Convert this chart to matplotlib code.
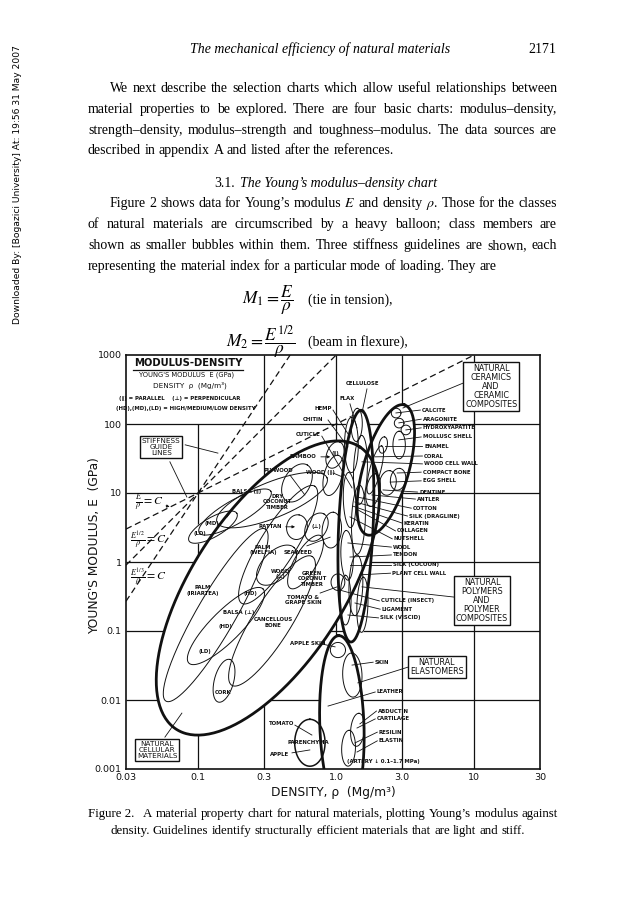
import numpy as np
import matplotlib
matplotlib.use("Agg")
import matplotlib.pyplot as plt

plt.rcParams['mathtext.fontset'] = 'stix'

# ---- chart data --------------------------------------------------------
x_ticks = [0.03, 0.1, 0.3, 1.0, 3.0, 10, 30]
x_tick_labels = ["0.03", "0.1", "0.3", "1.0", "3.0", "10", "30"]
y_ticks = [0.001, 0.01, 0.1, 1, 10, 100, 1000]
y_tick_labels = ["0.001", "0.01", "0.1", "1", "10", "100", "1000"]
grid_rho = [0.1, 0.3, 1.0, 3.0, 10]
grid_E = [0.01, 0.1, 1, 10, 100]

# guide lines E^(1/n)/rho = C, all through one point
guide_n = [1, 2, 3]
guide_rho0, guide_E0 = 0.1, 10.0

# heavy balloons: centre density (Mg/m3), centre modulus (GPa),
# half axes in decades of density, tilt in degrees
class_names = ["cellular", "polymers", "ceramics", "elastomers"]
class_rho = [0.32, 1.39, 2.29, 1.10]
class_E = [0.42, 3.3, 21.6, 0.0043]
class_a = [1.22, 0.84, 0.49, 0.65]
class_b = [0.55, 0.125, 0.165, 0.16]
class_ang = [57, 87.5, 74, 92]

# member bubbles
member_names = [
    "balsa par LD", "balsa par MD", "dry coconut timber", "plywood", "palm welfia",
    "rattan", "wood perp 1", "palm iriartea", "balsa perp", "cork",
    "cancellous bone", "wood perp 2", "green coconut timber", "seaweed",
    "tomato grape skin", "bamboo", "wood par",
    "cellulose", "chitin", "polymer 3", "polymer 4", "polymer 5", "polymer 6",
    "polymer 7", "polymer 8", "polymer 9",
    "calcite", "aragonite", "hydroxyapatite", "mollusc shell", "enamel", "coral",
    "compact bone", "egg shell", "antler",
    "apple skin", "skin", "abductin", "resilin", "parenchyma"]
member_rho = [0.128, 0.185, 0.343, 0.52, 0.38,
              0.52, 0.72, 0.134, 0.159, 0.154,
              0.343, 0.37, 0.60, 0.93,
              1.03, 0.98, 0.95,
              1.41, 1.29, 1.50, 1.25, 1.45, 1.20,
              1.39, 1.17, 1.55,
              2.72, 2.86, 3.2, 2.86, 2.19, 1.92,
              2.81, 2.37, 1.85,
              1.03, 1.31, 1.43, 1.23, 0.645]
member_E = [3.2, 5.3, 7.9, 14, 1.78,
            3.2, 3.2, 0.17, 0.118, 0.019,
            0.14, 0.9, 1.0, 2.9,
            0.51, 35.6, 18,
            97, 49.6, 21.6, 7.9, 4.1, 1.25,
            0.46, 0.28, 0.24,
            144, 103, 82, 49.6, 49.6, 21.6,
            15.8, 14, 11,
            0.053, 0.023, 0.0037, 0.002, 0.0024]
member_a = [0.2, 0.3, 0.43, 0.15, 0.5,
            0.09, 0.11, 0.72, 0.38, 0.16,
            0.55, 0.18, 0.22, 0.13,
            0.06, 0.1, 0.15,
            0.12, 0.2, 0.25, 0.2, 0.25, 0.18,
            0.22, 0.18, 0.2,
            0.035, 0.035, 0.035, 0.1, 0.06, 0.18,
            0.08, 0.09, 0.12,
            0.055, 0.16, 0.12, 0.13, 0.17]
member_b = [0.07, 0.085, 0.13, 0.095, 0.13,
            0.075, 0.075, 0.14, 0.11, 0.07,
            0.14, 0.1, 0.08, 0.07,
            0.05, 0.06, 0.065,
            0.04, 0.05, 0.05, 0.045, 0.05, 0.045,
            0.05, 0.04, 0.04,
            0.035, 0.035, 0.035, 0.045, 0.03, 0.04,
            0.055, 0.06, 0.05,
            0.055, 0.07, 0.05, 0.05, 0.11]
member_ang = [30, 30, 22, 60, 58,
              80, 60, 60, 45, 75,
              58, 45, 60, 85,
              90, 70, 75,
              88, 90, 88, 92, 88, 92,
              88, 90, 88,
              0, 0, 0, 90, 80, 75,
              80, 80, 80,
              0, 92, 85, 88, 90]

# labels with leader lines to the right of the balloons
right_labels = ["CALCITE", "ARAGONITE", "HYDROXYAPATITE", "MOLLUSC SHELL", "ENAMEL",
                "CORAL", "WOOD CELL WALL", "COMPACT BONE", "EGG SHELL", "DENTINE",
                "ANTLER", "COTTON", "SILK (DRAGLINE)", "KERATIN", "COLLAGEN",
                "NUTSHELL", "WOOL", "TENDON", "SILK (COCOON)", "PLANT CELL WALL",
                "CUTICLE (INSECT)", "LIGAMENT", "SILK (VISCID)", "SKIN", "LEATHER",
                "ABDUCTIN", "CARTILAGE", "RESILIN", "ELASTIN"]

# labels inside / left of the balloons
inner_labels = ["(LD)", "(MD)", "BALSA (∥)", "DRY\nCOCONUT\nTIMBER", "RATTAN", "(⊥)",
                "PALM\n(WELFIA)", "SEAWEED", "PLYWOOD", "WOOD (∥)", "BAMBOO", "(∥)",
                "CUTICLE", "CHITIN", "HEMP", "FLAX", "CELLULOSE", "PALM\n(IRIARTEA)",
                "(HD)", "BALSA (⊥)", "(HD)", "(LD)", "CANCELLOUS\nBONE", "CORK",
                "WOOD\n(⊥)", "GREEN\nCOCONUT\nTIMBER", "TOMATO &\nGRAPE SKIN",
                "APPLE SKIN", "TOMATO", "APPLE", "PARENCHYMA"]

box_labels = ["NATURAL\nCERAMICS\nAND\nCERAMIC\nCOMPOSITES",
              "NATURAL\nPOLYMERS\nAND\nPOLYMER\nCOMPOSITES",
              "NATURAL\nELASTOMERS", "NATURAL\nCELLULAR\nMATERIALS",
              "STIFFNESS\nGUIDE\nLINES"]

# ---- layout (axes fractions) ------------------------------------------
right_pos = [(0.715, 0.867), (0.717, 0.845), (0.717, 0.824), (0.717, 0.802), (0.720, 0.780),
             (0.720, 0.756), (0.720, 0.737), (0.717, 0.717), (0.717, 0.696), (0.708, 0.669),
             (0.703, 0.652), (0.693, 0.630), (0.684, 0.611), (0.671, 0.594), (0.655, 0.575),
             (0.647, 0.556), (0.645, 0.536), (0.645, 0.517), (0.645, 0.493), (0.643, 0.473),
             (0.616, 0.406), (0.618, 0.386), (0.614, 0.365), (0.601, 0.258), (0.606, 0.186),
             (0.609, 0.140), (0.606, 0.121), (0.611, 0.089), (0.611, 0.068)]
right_tgt = [(0.652, 0.860), (0.659, 0.836), (0.676, 0.819), (0.659, 0.795), (0.626, 0.780),
             (0.601, 0.754), (0.570, 0.742), (0.655, 0.715), (0.638, 0.693), (0.621, 0.674),
             (0.594, 0.662), (0.558, 0.657), (0.553, 0.645), (0.548, 0.635), (0.560, 0.626),
             (0.541, 0.609), (0.536, 0.546), (0.541, 0.512), (0.541, 0.493), (0.565, 0.469),
             (0.517, 0.432), (0.553, 0.401), (0.536, 0.372), (0.546, 0.251), (0.488, 0.152),
             (0.565, 0.109), (0.558, 0.099), (0.553, 0.063), (0.558, 0.041)]
inner_pos = [(0.179, 0.570), (0.208, 0.594), (0.292, 0.671), (0.365, 0.645), (0.348, 0.585),
             (0.461, 0.585), (0.331, 0.529), (0.415, 0.524), (0.367, 0.722), (0.469, 0.717),
             (0.428, 0.754), (0.505, 0.763), (0.440, 0.809), (0.452, 0.845), (0.476, 0.870),
             (0.534, 0.894), (0.572, 0.930), (0.186, 0.432), (0.300, 0.423), (0.271, 0.377),
             (0.239, 0.343), (0.191, 0.285), (0.355, 0.353), (0.234, 0.184), (0.372, 0.471),
             (0.449, 0.459), (0.428, 0.408), (0.440, 0.304), (0.377, 0.109), (0.372, 0.036),
             (0.440, 0.065)]
# plain leader segments (start, end)
leaders = [((0.582, 0.918), (0.570, 0.860)), ((0.541, 0.882), (0.558, 0.824)),
           ((0.500, 0.867), (0.541, 0.802)), ((0.488, 0.843), (0.536, 0.778)),
           ((0.473, 0.804), (0.546, 0.679)), ((0.396, 0.710), (0.432, 0.662)),
           ((0.500, 0.715), (0.524, 0.705)), ((0.283, 0.662), (0.244, 0.609)),
           ((0.437, 0.539), (0.493, 0.560)), ((0.469, 0.425), (0.510, 0.440)),
           ((0.473, 0.302), (0.505, 0.295)), ((0.408, 0.106), (0.449, 0.082)),
           ((0.401, 0.039), (0.444, 0.046)),
           ((0.814, 0.932), (0.669, 0.872)), ((0.795, 0.415), (0.570, 0.440)),
           ((0.681, 0.246), (0.560, 0.208)), ((0.094, 0.077), (0.135, 0.135)),
           ((0.143, 0.783), (0.222, 0.763)), ((0.106, 0.742), (0.147, 0.657))]
# leaders with arrow heads
arrows = [((0.464, 0.754), (0.500, 0.754)), ((0.379, 0.585), (0.415, 0.585)),
          ((0.090, 0.637), (0.112, 0.632))]
box_pos = [(0.882, 0.923), (0.860, 0.408), (0.751, 0.246), (0.075, 0.046), (0.085, 0.778)]


def ellipse(rho, E, a, b, ang, n=240):
    # ellipse in log space; one unit = one decade of rho = two decades of E
    t = np.linspace(0, 2 * np.pi, n)
    th = np.radians(ang)
    u = a * np.cos(t) * np.cos(th) - b * np.sin(t) * np.sin(th)
    v = a * np.cos(t) * np.sin(th) + b * np.sin(t) * np.cos(th)
    return rho * 10 ** u, E * 10 ** (2 * v)


fig = plt.figure(figsize=(6.38, 9.10), dpi=100)
ax = fig.add_axes([126 / 638, 1 - 769 / 910, 414 / 638, 414 / 910])
ax.set_xscale('log')
ax.set_yscale('log')
ax.set_xlim(0.03, 30)
ax.set_ylim(0.001, 1000)

ink = '#111111'
lab = dict(family='DejaVu Sans', fontsize=3.9, weight='bold', color=ink,
           transform=ax.transAxes, zorder=6)

# grid
for r in grid_rho:
    ax.vlines(r, 0.001, 100 if r == 0.1 else 1000, color=ink, lw=0.9, zorder=1)
for e in grid_E:
    ax.hlines(e, 0.03, 30, color=ink, lw=0.9, zorder=1)

# guide lines
for n in guide_n:
    rho_top = guide_rho0 * (1000 / guide_E0) ** (1 / n)
    rr = np.array([0.03, rho_top])
    ax.plot(rr, guide_E0 * (rr / guide_rho0) ** n, color=ink, lw=0.9,
            dashes=(5, 3), zorder=1.5)

# balloons: white fills first, then outlines
shapes = []
for i in range(len(class_names)):
    shapes.append((ellipse(class_rho[i], class_E[i], class_a[i], class_b[i], class_ang[i]), 2.0))
for i in range(len(member_names)):
    lw = 1.1 if member_names[i] == "parenchyma" else 0.7
    shapes.append((ellipse(member_rho[i], member_E[i], member_a[i], member_b[i], member_ang[i]), lw))
for (xs, ys), lw in shapes:
    ax.fill(xs, ys, color='white', zorder=2)
for (xs, ys), lw in shapes:
    ax.plot(xs, ys, color=ink, lw=lw, zorder=3)

# labels
for t, (x, y), (tx, ty) in zip(right_labels, right_pos, right_tgt):
    ax.plot([tx, x - 0.004], [ty, y], color=ink, lw=0.6, transform=ax.transAxes, zorder=5)
    ax.text(x, y, t, ha='left', va='center', **lab)
for t, (x, y) in zip(inner_labels, inner_pos):
    ax.text(x, y, t, ha='center', va='center', linespacing=1.2, **lab)
for p0, p1 in leaders:
    ax.plot([p0[0], p1[0]], [p0[1], p1[1]], color=ink, lw=0.6, transform=ax.transAxes, zorder=5)
for p0, p1 in arrows:
    ax.annotate('', xy=p1, xytext=p0, xycoords='axes fraction',
                arrowprops=dict(arrowstyle='-|>', lw=0.6, color=ink, mutation_scale=4), zorder=5)
for t, (x, y) in zip(box_labels, box_pos):
    big = 5.8 if 'CELLULAR' not in t and 'STIFF' not in t else 5.2
    ax.text(x, y, t, ha='center', va='center', linespacing=1.0,
            family='DejaVu Sans', fontsize=big, color=ink, transform=ax.transAxes, zorder=7,
            bbox=dict(boxstyle='square,pad=0.25', fc='white', ec=ink, lw=1.0))
ax.text(0.621, 0.017, "(ARTERY ↓ 0.1–1.7 MPa)", ha='center', va='center', **lab)

# guide line labels
ax.text(0.055, 0.643, r"$\frac{E}{\rho}=C$", ha='center', va='center', fontsize=8.5,
        transform=ax.transAxes, zorder=6)
ax.text(0.055, 0.553, r"$\frac{E^{1/2}}{\rho}=C$", ha='center', va='center', fontsize=8.5,
        transform=ax.transAxes, zorder=6)
ax.text(0.055, 0.464, r"$\frac{E^{1/3}}{\rho}=C$", ha='center', va='center', fontsize=8.5,
        transform=ax.transAxes, zorder=6)

# legend block top-left
ax.text(0.150, 0.981, "MODULUS-DENSITY", ha='center', va='center', family='DejaVu Sans',
        fontsize=7.2, weight='bold', color=ink, transform=ax.transAxes, zorder=6)
ax.plot([0.017, 0.282], [0.964, 0.964], color=ink, lw=0.9, transform=ax.transAxes, zorder=6)
ax.text(0.147, 0.952, "YOUNG'S MODULUS  E (GPa)", ha='center', va='center',
        family='DejaVu Sans', fontsize=4.9, color=ink, transform=ax.transAxes, zorder=6)
ax.text(0.155, 0.927, "DENSITY  ρ  (Mg/m³)", ha='center', va='center',
        family='DejaVu Sans', fontsize=5.2, color=ink, transform=ax.transAxes, zorder=6)
ax.text(0.130, 0.896, "(∥) = PARALLEL    (⊥) = PERPENDICULAR", ha='center', va='center', **lab)
ax.text(0.143, 0.870, "(HD),(MD),(LD) = HIGH/MEDIUM/LOW DENSITY", ha='center', va='center', **lab)

# axes
for s in ax.spines.values():
    s.set_linewidth(1.2)
    s.set_color(ink)
    s.set_zorder(8)
ax.set_xticks(x_ticks)
ax.set_xticklabels(x_tick_labels)
ax.set_yticks(y_ticks)
ax.set_yticklabels(y_tick_labels)
ax.minorticks_off()
ax.tick_params(length=0, pad=3, labelsize=6.8, colors=ink)
ax.set_xlabel("DENSITY, ρ  (Mg/m³)", fontsize=8.8, color=ink, labelpad=3)
ax.set_ylabel("YOUNG'S MODULUS, E  (GPa)", fontsize=8.8, color=ink)
ax.yaxis.set_label_coords(-0.060, 0.54)

# ---- page text -----------------------------------------------------------
serif = 'Liberation Serif'
W = 638.0
renderer = fig.canvas.get_renderer()


def line(txt, x0, y, size, x1=None, style='normal'):
    words = txt.split()
    arts = [fig.text(x0, y, w, fontsize=size, family=serif, style=style,
                     va='baseline', ha='left') for w in words]
    widths = [a.get_window_extent(renderer).width / W for a in arts]
    if x1 is not None:
        gap = (x1 - x0 - sum(widths)) / max(len(words) - 1, 1)
    else:
        gap = 0.25 * size * 100 / 72 / W
    x = x0
    for a, w in zip(arts, widths):
        a.set_x(x)
        x += w + gap


fig.text(320 / W, 0.942, "The mechanical efficiency of natural materials", family=serif,
         style='italic', fontsize=10, ha='center', va='baseline')
fig.text(556 / W, 0.942, "2171", family=serif, fontsize=10, ha='right', va='baseline')

L, R, I = 88 / W, 557 / W, 110 / W
para1 = ["We next describe the selection charts which allow useful relationships between",
         "material properties to be explored. There are four basic charts: modulus–density,",
         "strength–density, modulus–strength and toughness–modulus. The data sources are",
         "described in appendix A and listed after the references."]
para2 = ["Figure 2 shows data for Young’s modulus $E$ and density $\\rho$. Those for the classes",
         "of natural materials are circumscribed by a heavy balloon; class members are",
         "shown as smaller bubbles within them. Three stiffness guidelines are shown, each",
         "representing the material index for a particular mode of loading. They are"]
ys1 = [0.899, 0.876, 0.853, 0.831]
ys2 = [0.772, 0.749, 0.726, 0.703]
for k, (t, y) in enumerate(zip(para1, ys1)):
    line(t, I if k == 0 else L, y, 10, None if k == 3 else R)
for k, (t, y) in enumerate(zip(para2, ys2)):
    line(t, I if k == 0 else L, y, 10, None if k == 3 else R)

fig.text(214 / W, 0.795, "3.1.", family=serif, fontsize=10, va='baseline')
fig.text(240 / W, 0.795, "The Young’s modulus–density chart", family=serif, style='italic',
         fontsize=10, va='baseline')

fig.text(242 / W, 0.670, r"$M_1=\dfrac{E}{\rho}$", fontsize=12.5, va='center')
fig.text(308 / W, 0.670, "(tie in tension),", family=serif, fontsize=10, va='center')
fig.text(226 / W, 0.624, r"$M_2=\dfrac{E^{1/2}}{\rho}$", fontsize=12.5, va='center')
fig.text(308 / W, 0.624, "(beam in flexure),", family=serif, fontsize=10, va='center')

fig.text(88 / W, 0.102, "Figure 2.", family=serif, fontsize=9.3, va='baseline')
line("A material property chart for natural materials, plotting Young’s modulus against",
     143 / W, 0.102, 9.3, 558 / W)
line("density. Guidelines identify structurally efficient materials that are light and stiff.",
     110 / W, 0.084, 9.3)

fig.text(0.028, 0.797, "Downloaded By: [Bogazici University] At: 19:56 31 May 2007",
         rotation=90, fontsize=6.6, family='DejaVu Sans', ha='center', va='center')

fig.savefig("out.png", dpi=100)
